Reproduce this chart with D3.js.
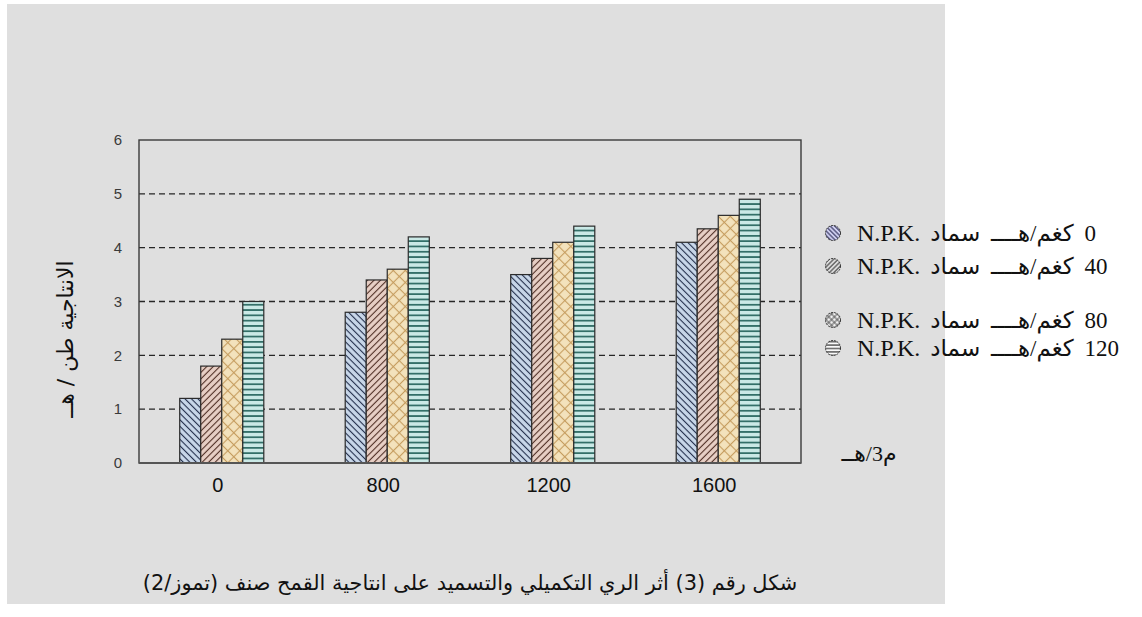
<!DOCTYPE html>
<html>
<head>
<meta charset="utf-8">
<script src="https://cdn.jsdelivr.net/npm/d3@7/dist/d3.min.js"></script>
<style>
  html, body { margin: 0; padding: 0; background: #ffffff; }
  svg { display: block; }
</style>
</head>
<body>
<svg id="chart" width="1142" height="617"></svg>
<script>
// Irrigation levels (m3/ha) on the x axis
const categories = ["0", "800", "1200", "1600"];
// N.P.K. fertiliser rates (kg/ha), one series each
const seriesRates = ["0", "40", "80", "120"];
// Yield (ton/ha) per irrigation level for each fertiliser rate
const npk0   = [1.2, 2.8, 3.5, 4.1];
const npk40  = [1.8, 3.4, 3.8, 4.35];
const npk80  = [2.3, 3.6, 4.1, 4.6];
const npk120 = [3.0, 4.2, 4.4, 4.9];
const yTicks = [0, 1, 2, 3, 4, 5, 6];
const gridValues = [1, 2, 3, 4, 5];

const seriesValues = [npk0, npk40, npk80, npk120];
const seriesUnit = "كغم/هــــ سماد";
const yTitle = "الانتاجية طن / هــ";
const xUnit = "م3/هــ";
const caption = "شكل رقم (3) أثر الري التكميلي والتسميد على انتاجية القمح صنف (تموز/2)";

const svg = d3.select("#chart");
const defs = svg.append("defs");

// hatch pattern helper: lines in a tile, optionally rotated
function hatch(id, size, bg, color, width, angle, cross) {
  const p = defs.append("pattern")
    .attr("id", id)
    .attr("patternUnits", "userSpaceOnUse")
    .attr("width", size).attr("height", size)
    .attr("patternTransform", angle ? `rotate(${angle})` : null);
  p.append("rect").attr("width", size).attr("height", size).attr("fill", bg);
  if (angle) {
    p.append("line").attr("x1", size / 2).attr("y1", 0).attr("x2", size / 2).attr("y2", size)
      .attr("stroke", color).attr("stroke-width", width);
  }
  if (!angle || cross) {
    p.append("line").attr("x1", 0).attr("y1", size / 2).attr("x2", size).attr("y2", size / 2)
      .attr("stroke", color).attr("stroke-width", width);
  }
}
// bar fills
hatch("bar0", 4.6, "#c9d8ea", "#1f2b48", 1.1, -45, false);
hatch("bar1", 4.6, "#e8d0c6", "#4d2c22", 1.1, 45, false);
hatch("bar2", 8.5, "#f3e2bc", "#c59c5e", 1.1, 45, true);
hatch("bar3", 5.3, "#cae9e6", "#2d6a63", 1.7, 0, false);
// legend symbol fills
hatch("leg0", 3.2, "#cfcff0", "#23234e", 1.0, -45, false);
hatch("leg1", 3.2, "#dedede", "#333333", 1.0, 45, false);
hatch("leg2", 4.0, "#f2f2f2", "#444444", 0.9, 45, true);
hatch("leg3", 3.4, "#fafafa", "#111111", 1.0, 0, false);

// grey panel behind the chart
svg.append("rect")
  .attr("x", 7).attr("y", 4).attr("width", 938).attr("height", 600)
  .attr("fill", "#dfdfdf");

const plot = { left: 139, right: 801, top: 140, bottom: 463 };

const x0 = d3.scaleBand()
  .domain(categories)
  .range([plot.left, plot.right])
  .paddingInner(0.492)
  .paddingOuter(0.246);

const x1 = d3.scaleBand()
  .domain(seriesRates)
  .range([0, x0.bandwidth()])
  .padding(0);

const y = d3.scaleLinear()
  .domain([0, 6])
  .range([plot.bottom, plot.top]);

// dashed gridlines
svg.append("g")
  .selectAll("line")
  .data(gridValues)
  .join("line")
  .attr("x1", plot.left).attr("x2", plot.right)
  .attr("y1", d => y(d)).attr("y2", d => y(d))
  .attr("stroke", "#262626")
  .attr("stroke-width", 1.3)
  .attr("stroke-dasharray", "6,4");

// bars
const rows = categories.map((c, i) => ({ cat: c, vals: seriesValues.map(s => s[i]) }));
svg.append("g")
  .selectAll("g")
  .data(rows)
  .join("g")
  .attr("transform", d => `translate(${x0(d.cat)},0)`)
  .selectAll("rect")
  .data(d => d.vals.map((v, k) => ({ k, v })))
  .join("rect")
  .attr("x", d => x1(seriesRates[d.k]))
  .attr("y", d => y(d.v))
  .attr("width", x1.bandwidth())
  .attr("height", d => y(0) - y(d.v))
  .attr("fill", d => `url(#bar${d.k})`)
  .attr("stroke", "#2b2b2b")
  .attr("stroke-width", 1.2);

// frame
svg.append("rect")
  .attr("x", plot.left).attr("y", plot.top)
  .attr("width", plot.right - plot.left).attr("height", plot.bottom - plot.top)
  .attr("fill", "none").attr("stroke", "#3a3a3a").attr("stroke-width", 1.4);
svg.append("line")
  .attr("x1", plot.left).attr("x2", plot.right)
  .attr("y1", plot.bottom).attr("y2", plot.bottom)
  .attr("stroke", "#555").attr("stroke-width", 2);

// y axis labels
const yAxis = d3.axisLeft(y).tickValues(yTicks).tickSize(0).tickPadding(17).tickFormat(d3.format("d"));
const yg = svg.append("g").attr("transform", `translate(${plot.left},0)`).call(yAxis);
yg.select(".domain").remove();
yg.selectAll("text")
  .attr("font-family", "'Liberation Sans', Arial, sans-serif")
  .attr("font-size", 15)
  .attr("fill", "#3a3a3a");

// x axis labels
const xAxis = d3.axisBottom(x0).tickSize(0).tickPadding(15);
const xg = svg.append("g").attr("transform", `translate(-4,${plot.bottom})`).call(xAxis);
xg.select(".domain").remove();
xg.selectAll("text")
  .attr("font-family", "'Liberation Sans', Arial, sans-serif")
  .attr("font-size", 20)
  .attr("fill", "#111");

// y axis title
svg.append("text")
  .attr("transform", "translate(73,339) rotate(-90)")
  .attr("text-anchor", "middle")
  .attr("direction", "rtl")
  .attr("font-family", "'DejaVu Sans', sans-serif")
  .attr("font-size", 22)
  .attr("fill", "#111")
  .text(yTitle);

// unit under the legend
svg.append("text")
  .attr("x", 869).attr("y", 461)
  .attr("text-anchor", "middle")
  .attr("direction", "rtl")
  .attr("font-family", "'Liberation Serif', 'DejaVu Sans', serif")
  .attr("font-size", 22)
  .attr("fill", "#111")
  .text(xUnit);

// legend
const legendY = [233, 266, 320, 348];
const legendLeft = 857;
const legend = svg.append("g");
seriesRates.forEach((r, k) => {
  const cy = legendY[k];
  legend.append("circle")
    .attr("cx", 833).attr("cy", cy).attr("r", 7.5)
    .attr("fill", `url(#leg${k})`)
    .attr("stroke", "#333").attr("stroke-width", 1)
    .attr("stroke-dasharray", "2,1");
  const latin = legend.append("text")
    .attr("x", legendLeft).attr("y", cy + 8)
    .attr("font-family", "'Liberation Serif', serif")
    .attr("font-size", 24)
    .attr("fill", "#111")
    .text("N.P.K.");
  const w = latin.node().getComputedTextLength();
  const start = legendLeft + w + 10;
  const ar = legend.append("text")
    .attr("y", cy + 8)
    .attr("direction", "rtl")
    .attr("text-anchor", "middle")
    .attr("font-family", "'Liberation Serif', 'DejaVu Sans', serif")
    .attr("font-size", 23)
    .attr("word-spacing", 5)
    .attr("fill", "#111")
    .text(`${r} ${seriesUnit}`);
  const w2 = ar.node().getComputedTextLength();
  ar.attr("x", start + w2 / 2);
});

// caption
const cap = svg.append("text")
  .attr("x", 470).attr("y", 590)
  .attr("text-anchor", "middle")
  .attr("direction", "rtl")
  .attr("font-family", "'DejaVu Sans', sans-serif")
  .attr("font-size", 18)
  .attr("fill", "#111")
  .text(caption);
const capW = cap.node().getComputedTextLength();
cap.attr("font-size", Math.max(14, Math.min(22, 18 * 655 / capW)));
</script>
</body>
</html>
